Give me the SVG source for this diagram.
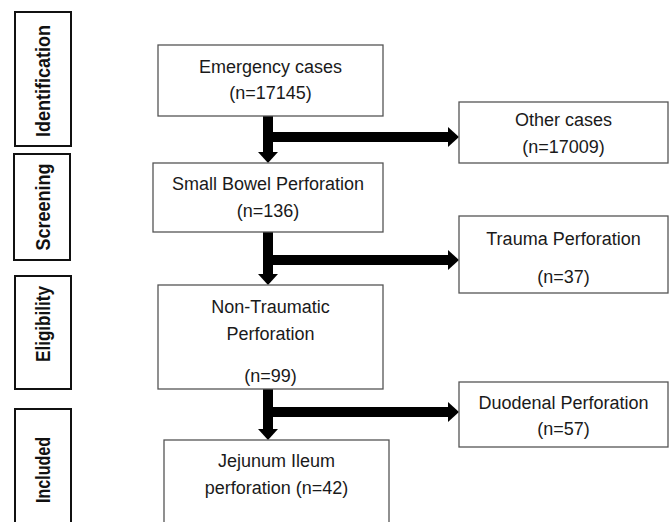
<svg xmlns="http://www.w3.org/2000/svg" width="670" height="522" viewBox="0 0 670 522">
<style>
.stage{fill:#fff;stroke:#111;stroke-width:2}
.box{fill:#fff;stroke:#555;stroke-width:1.3}
.st{font-family:"Liberation Sans",Arial,sans-serif;font-weight:bold;font-size:20px;fill:#111;text-anchor:middle}
.t{font-family:"Liberation Sans",Arial,sans-serif;font-size:18px;fill:#1a1a1a;text-anchor:middle}
.c{stroke:#000;stroke-width:10;fill:none;marker-end:url(#ah)}
</style>
<defs>
<marker id="ah" viewBox="0 0 1.1 2" refX="0" refY="1" markerWidth="1.1" markerHeight="2" markerUnits="strokeWidth" orient="auto">
<path d="M0,0 L1.1,1 L0,2 Z" fill="#000"/>
</marker>
</defs>
<g id="stage-identification"><rect class="stage" x="15" y="12" width="56" height="134"/><text class="st" transform="translate(50,81) rotate(-90)" textLength="112" lengthAdjust="spacingAndGlyphs">Identification</text></g>
<g id="stage-screening"><rect class="stage" x="14" y="154" width="56" height="106"/><text class="st" transform="translate(50,207) rotate(-90)" textLength="87" lengthAdjust="spacingAndGlyphs">Screening</text></g>
<g id="stage-eligibility"><rect class="stage" x="15" y="276" width="56" height="113"/><text class="st" transform="translate(50,324) rotate(-90)" textLength="76" lengthAdjust="spacingAndGlyphs">Eligibility</text></g>
<g id="stage-included"><rect class="stage" x="15" y="409" width="56" height="130"/><text class="st" transform="translate(50,470) rotate(-90)" textLength="66" lengthAdjust="spacingAndGlyphs">Included</text></g>
<g id="connectors">
<line class="c" x1="268" y1="116" x2="268" y2="152"/>
<line class="c" x1="268" y1="137" x2="448" y2="137"/>
<line class="c" x1="268" y1="232" x2="268" y2="274"/>
<line class="c" x1="268" y1="260" x2="448" y2="260"/>
<line class="c" x1="268" y1="389" x2="268" y2="429"/>
<line class="c" x1="268" y1="412" x2="448" y2="412"/>
</g>
<g id="emergency"><rect class="box" x="158" y="45" width="225" height="71"/><text class="t" x="270.5" y="73">Emergency cases</text><text class="t" x="270.5" y="99">(n=17145)</text></g>
<g id="other"><rect class="box" x="459" y="102" width="209" height="61"/><text class="t" x="563.5" y="126">Other cases</text><text class="t" x="563.5" y="153">(n=17009)</text></g>
<g id="smallbowel"><rect class="box" x="153" y="163" width="230" height="69"/><text class="t" x="268" y="190">Small Bowel Perforation</text><text class="t" x="268" y="217">(n=136)</text></g>
<g id="trauma"><rect class="box" x="459" y="216" width="209" height="77"/><text class="t" x="563.5" y="245">Trauma Perforation</text><text class="t" x="563.5" y="283">(n=37)</text></g>
<g id="nontraumatic"><rect class="box" x="158" y="285" width="225" height="104"/><text class="t" x="270.5" y="313">Non-Traumatic</text><text class="t" x="270.5" y="340">Perforation</text><text class="t" x="270.5" y="382">(n=99)</text></g>
<g id="duodenal"><rect class="box" x="459" y="382" width="209" height="65"/><text class="t" x="563.5" y="409">Duodenal Perforation</text><text class="t" x="563.5" y="435">(n=57)</text></g>
<g id="jejunum"><rect class="box" x="164" y="440" width="225" height="100"/><text class="t" x="276.5" y="467">Jejunum Ileum</text><text class="t" x="276.5" y="494">perforation (n=42)</text></g>
</svg>
